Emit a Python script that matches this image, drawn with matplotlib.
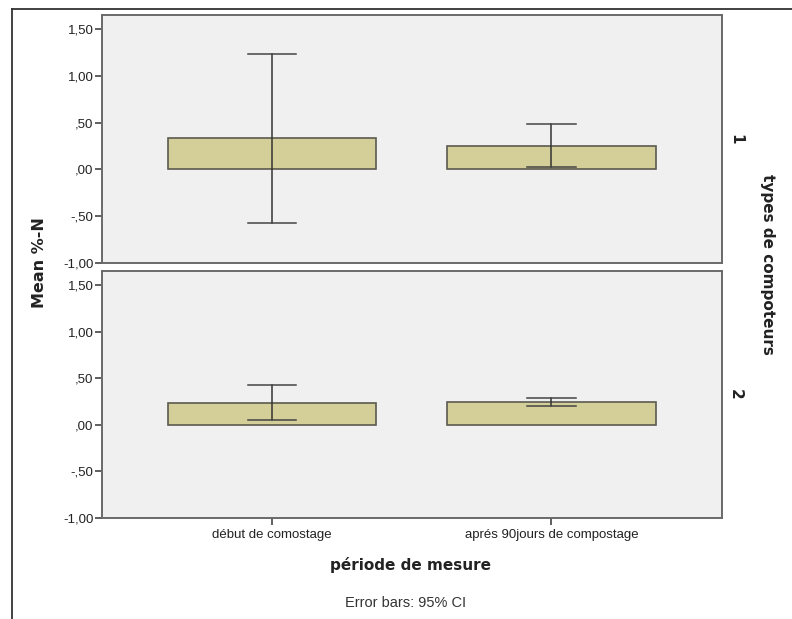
import matplotlib
matplotlib.use("Agg")
import matplotlib.pyplot as plt
from matplotlib.lines import Line2D
from matplotlib.ticker import FuncFormatter

# ------------------------------------------------------------
# Data
# ------------------------------------------------------------
periods = ["début de comostage", "aprés 90jours de compostage"]
panels = ["1", "2"]  # types de compoteurs

means = {
    "1": [0.335, 0.252],
    "2": [0.237, 0.240],
}
ci_low = {
    "1": [-0.57, 0.02],
    "2": [0.05, 0.20],
}
ci_high = {
    "1": [1.24, 0.49],
    "2": [0.424, 0.283],
}

yticks = [-1.0, -0.5, 0.0, 0.5, 1.0, 1.5]

BAR_COLOR = "#D4CE98"
EDGE_COLOR = "#5A5A50"
PANEL_BG = "#F0F0F0"
SPINE_COLOR = "#6A6A6A"
TXT = "#222222"


def spss_fmt(v, pos):
    s = f"{v:.2f}".replace(".", ",")
    if s.startswith("0,"):
        s = s[1:]
    elif s.startswith("-0,"):
        s = "-" + s[2:]
    return s


fig = plt.figure(figsize=(7.92, 6.19), dpi=100)
fig.patch.set_facecolor("white")

# outer frame (top and left edges visible)
fig.add_artist(Line2D([12 / 792, 1.0], [1 - 9 / 619, 1 - 9 / 619],
                      transform=fig.transFigure, color="#333333", lw=1.3))
fig.add_artist(Line2D([12 / 792, 12 / 792], [0, 1 - 9 / 619],
                      transform=fig.transFigure, color="#333333", lw=1.3))

left, right = 101.7 / 792, 721.7 / 792
boxes = [
    (1 - 262.7 / 619, 1 - 15.3 / 619),
    (1 - 517.7 / 619, 1 - 271 / 619),
]

x = list(range(len(periods)))
bar_w = 0.745
cap = 0.086

for i, (panel, (b, t)) in enumerate(zip(panels, boxes)):
    ax = fig.add_axes([left, b, right - left, t - b])
    ax.set_facecolor(PANEL_BG)
    ax.bar(x, means[panel], width=bar_w, color=BAR_COLOR,
           edgecolor=EDGE_COLOR, linewidth=1.2, zorder=2)
    for xi, lo, hi in zip(x, ci_low[panel], ci_high[panel]):
        ax.plot([xi, xi], [lo, hi], color="#333333", lw=1.1, zorder=3)
        ax.plot([xi - cap, xi + cap], [hi, hi], color="#444444", lw=1.1, zorder=3)
        ax.plot([xi - cap, xi + cap], [lo, lo], color="#444444", lw=1.1, zorder=3)

    ax.set_xlim(-0.609, 1.609)
    ax.set_ylim(-1.0, 1.65)
    ax.set_yticks(yticks)
    ax.yaxis.set_major_formatter(FuncFormatter(spss_fmt))
    ax.tick_params(axis="y", direction="out", length=5, width=1.2,
                   color="#444444", labelsize=9.5, labelcolor=TXT, pad=1)
    for sp in ax.spines.values():
        sp.set_color(SPINE_COLOR)
        sp.set_linewidth(1.4)

    if i == 1:
        ax.set_xticks(x)
        ax.set_xticklabels(periods, fontsize=9.5, color=TXT)
        ax.tick_params(axis="x", direction="out", length=5, width=1.2,
                       color="#444444", pad=3)
    else:
        ax.set_xticks([])

    ax.text(1.022, 0.5, panel, transform=ax.transAxes, rotation=-90,
            ha="center", va="center", fontsize=11, fontweight="bold",
            color=TXT, family="DejaVu Sans")

for a in fig.axes:
    for lab in a.get_yticklabels() + a.get_xticklabels():
        lab.set_family("Liberation Sans")

fig.text(40 / 792, 1 - 263 / 619, "Mean %-N", rotation=90, ha="center",
         va="center", fontsize=11.5, fontweight="bold", color=TXT,
         family="DejaVu Sans")
fig.text(768 / 792, 1 - 264 / 619, "types de compoteurs", rotation=-90,
         ha="center", va="center", fontsize=11, fontweight="bold",
         color=TXT, family="DejaVu Sans")
fig.text(411 / 792, 1 - 565 / 619, "période de mesure", ha="center",
         va="center", fontsize=11, fontweight="bold", color=TXT,
         family="DejaVu Sans")
fig.text(406 / 792, 1 - 603 / 619, "Error bars: 95% CI", ha="center",
         va="center", fontsize=10.5, color="#333333", family="Liberation Sans")

fig.savefig("out.png", dpi=100)
